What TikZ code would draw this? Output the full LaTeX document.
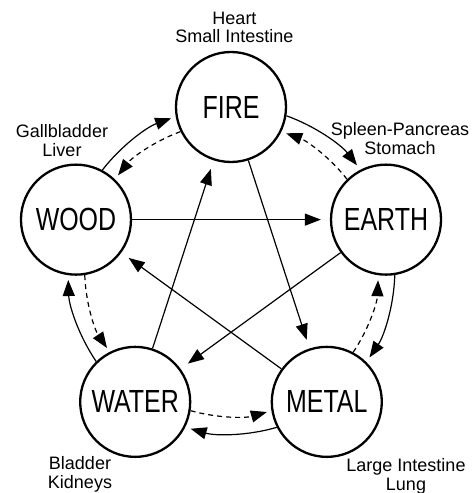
\documentclass[tikz,border=0pt]{standalone}
\usepackage{fontspec}
\setmainfont{Liberation Sans}
\newfontfamily\elemfont[FakeStretch=0.78]{Liberation Sans}
\usetikzlibrary{arrows.meta}

\begin{document}
\begin{tikzpicture}[
    x=1pt, y=1pt,
    element/.style={draw, circle, line width=2.3pt, minimum size=110pt, inner sep=0pt, font=\elemfont\fontsize{32}{34}\selectfont},
    organs/.style={align=center, anchor=north, inner sep=0pt, font=\fontsize{18}{18.5}\selectfont},
    arr/.style={-{Triangle[length=16pt, width=12pt]}, line width=1.2pt},
    genarr/.style={arr, shorten >=5pt},
    backarr/.style={arr, shorten >=5pt, dash pattern=on 5pt off 4pt},
    ctrlarr/.style={arr, shorten >=9pt}
]
\useasboundingbox (-231,-223) rectangle (244,270);

% the five phases
\node[element] (fire)  at (90:163)   {FIRE};
\node[element] (earth) at (18:163)   {EARTH};
\node[element] (metal) at (-54:163)  {METAL};
\node[element] (water) at (-126:163) {WATER};
\node[element] (wood)  at (162:163)  {WOOD};

% organs
\node[organs] (fireorg)  at (3.5,258.5)   {Heart\\Small Intestine};
\node[organs] (woodorg)  at (-169,145.5)  {Gallbladder\\Liver};
\node[organs] (earthorg) at (169,147.5)   {Spleen-Pancreas\\Stomach};
\node[organs] (waterorg) at (-151,-186.5) {Bladder\\Kidneys};
\node[organs] (metalorg) at (175,-188.5)  {Large Intestine\\Lung};

% generating cycle (outer)
\draw[genarr] (fire.-9.9)   arc[start angle=70.2,   end angle=37.8,   radius=163];
\draw[genarr] (earth.-81.9) arc[start angle=-1.8,   end angle=-34.2,  radius=163];
\draw[genarr] (metal.-153.9) arc[start angle=-73.8, end angle=-106.2, radius=163];
\draw[genarr] (water.134.1) arc[start angle=-145.8, end angle=-178.2, radius=163];
\draw[genarr] (wood.62.1)   arc[start angle=142.2,  end angle=109.8,  radius=163];

% reverse cycle (inner, dashed)
\draw[backarr] (earth.134.3) arc[start angle=38,   end angle=70,   radius=147];
\draw[backarr] (metal.62.3)  arc[start angle=-34,  end angle=-2,   radius=147];
\draw[backarr] (water.-9.7)  arc[start angle=-106, end angle=-74,  radius=147];
\draw[backarr] (wood.-81.7)  arc[start angle=182,  end angle=214,  radius=147];
\draw[backarr] (fire.206.3)  arc[start angle=110,  end angle=142,  radius=147];

% controlling cycle (star)
\draw[ctrlarr] (wood) -- (earth);
\draw[ctrlarr] (earth) -- (water);
\draw[ctrlarr] (water) -- (fire);
\draw[ctrlarr] (fire) -- (metal);
\draw[ctrlarr] (metal) -- (wood);
\end{tikzpicture}
\end{document}
